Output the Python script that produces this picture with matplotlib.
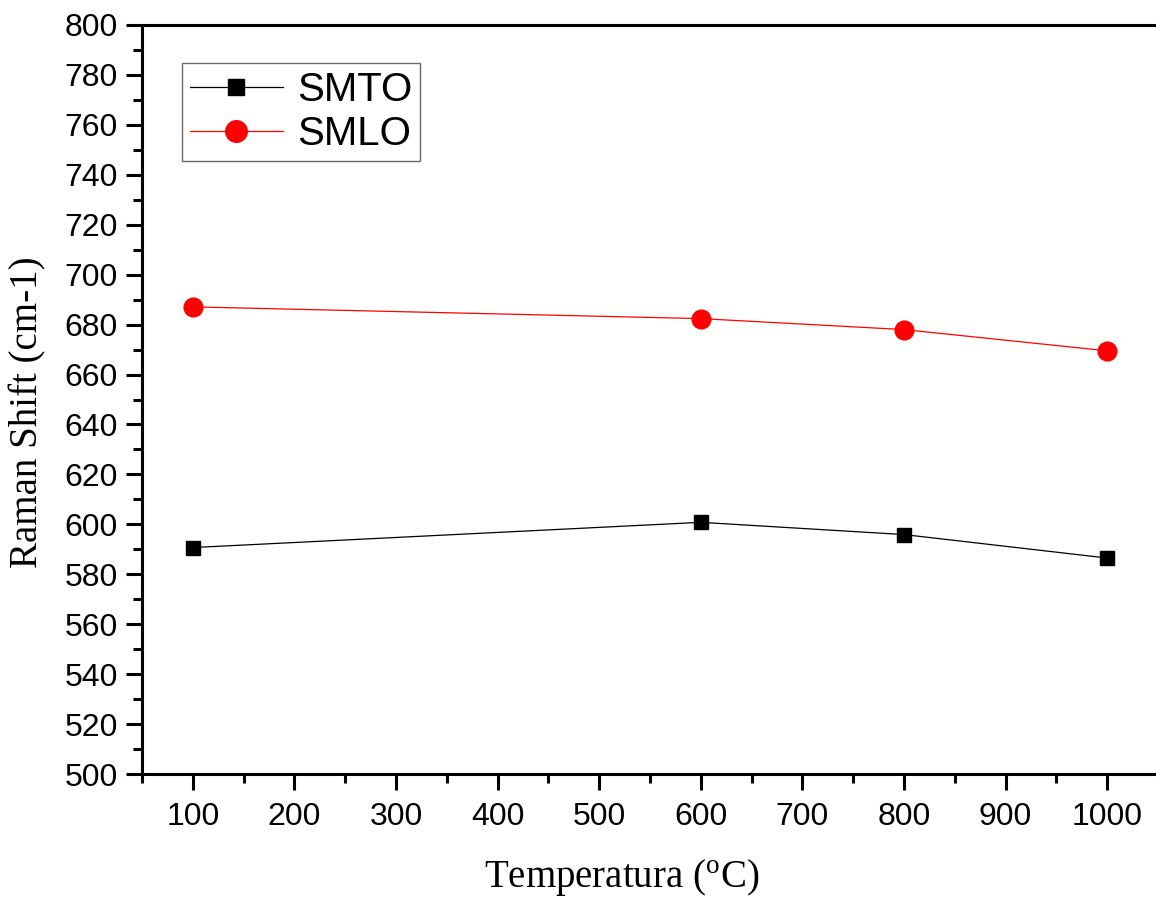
import matplotlib
matplotlib.use("Agg")
import matplotlib.pyplot as plt
from matplotlib.ticker import MultipleLocator

# data
temperatura = [100, 600, 800, 1000]
smto = [590.7, 600.8, 595.9, 586.5]
smlo = [687.1, 682.4, 678.0, 669.5]

plt.rcParams['font.family'] = ['Liberation Sans', 'DejaVu Sans']
plt.rcParams['mathtext.fontset'] = 'custom'
plt.rcParams['mathtext.rm'] = 'Liberation Serif'

fig = plt.figure(figsize=(11.56, 8.98), dpi=100)
ax = fig.add_axes([142 / 1156, 1 - 774 / 898, 1016 / 1156, 749 / 898])

ax.plot(temperatura, smto, color='black', lw=0.9, marker='s', ms=10,
        mec='black', mfc='black', label='SMTO')
ax.plot(temperatura, smlo, color='red', lw=0.9, marker='o', ms=13.5,
        mec='red', mfc='red', label='SMLO')

ax.set_xlim(50, 1050)
ax.set_ylim(500, 800)
ax.xaxis.set_major_locator(MultipleLocator(100))
ax.xaxis.set_minor_locator(MultipleLocator(50))
ax.yaxis.set_major_locator(MultipleLocator(20))
ax.yaxis.set_minor_locator(MultipleLocator(10))

for s in ax.spines.values():
    s.set_linewidth(2.2)
ax.spines['right'].set_visible(False)

ax.tick_params(which='major', direction='out', length=11.5, width=2.2,
               labelsize=23, pad=6)
ax.tick_params(which='minor', direction='out', length=6.5, width=2.2)
ax.tick_params(axis='x', which='major', pad=9)
ax.tick_params(top=False, right=False, which='both')

ax.set_xlabel(r'Temperatura ($\mathrm{^{o}}$C)', family='Liberation Serif',
              fontsize=28)
ax.set_ylabel('Raman Shift (cm-1)', family='Liberation Serif', fontsize=28)
ax.xaxis.set_label_coords((622 - 142) / 1016, -(857 - 774) / 749)
ax.yaxis.set_label_coords(-(142 - 46) / 1016, (774 - 412) / 749)

leg = ax.legend(loc='upper left', bbox_to_anchor=(182 / 1156, 1 - 63 / 898),
                bbox_transform=fig.transFigure, fontsize=29, frameon=True,
                fancybox=False, borderaxespad=0, handlelength=2.3,
                handletextpad=0.35, borderpad=0.2, labelspacing=0.15,
                markerscale=1.15)
leg.get_frame().set_edgecolor('#444444')
leg.get_frame().set_linewidth(1.0)

fig.savefig('out.png', dpi=100)
